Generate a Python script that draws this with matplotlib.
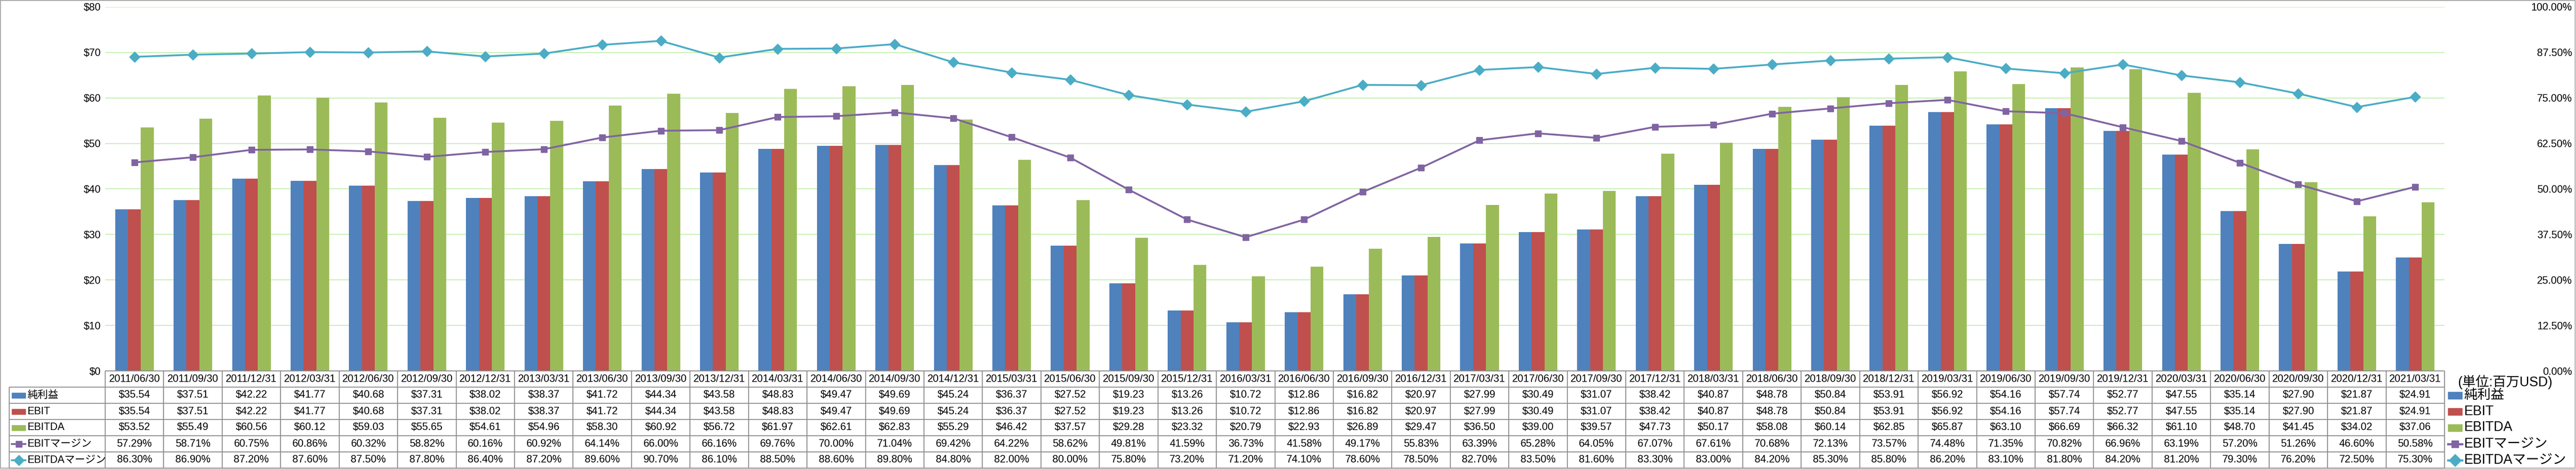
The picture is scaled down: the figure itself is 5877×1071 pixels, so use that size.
import numpy as np
import matplotlib
matplotlib.use('Agg')
import matplotlib.pyplot as plt
from matplotlib import font_manager
from matplotlib.patches import Rectangle
from matplotlib.lines import Line2D

# データ (単位: 百万USD)
dates = ['2011/06/30', '2011/09/30', '2011/12/31', '2012/03/31', '2012/06/30', '2012/09/30',
         '2012/12/31', '2013/03/31', '2013/06/30', '2013/09/30', '2013/12/31', '2014/03/31',
         '2014/06/30', '2014/09/30', '2014/12/31', '2015/03/31', '2015/06/30', '2015/09/30',
         '2015/12/31', '2016/03/31', '2016/06/30', '2016/09/30', '2016/12/31', '2017/03/31',
         '2017/06/30', '2017/09/30', '2017/12/31', '2018/03/31', '2018/06/30', '2018/09/30',
         '2018/12/31', '2019/03/31', '2019/06/30', '2019/09/30', '2019/12/31', '2020/03/31',
         '2020/06/30', '2020/09/30', '2020/12/31', '2021/03/31']
net_income = [35.54, 37.51, 42.22, 41.77, 40.68, 37.31, 38.02, 38.37, 41.72, 44.34,
              43.58, 48.83, 49.47, 49.69, 45.24, 36.37, 27.52, 19.23, 13.26, 10.72,
              12.86, 16.82, 20.97, 27.99, 30.49, 31.07, 38.42, 40.87, 48.78, 50.84,
              53.91, 56.92, 54.16, 57.74, 52.77, 47.55, 35.14, 27.90, 21.87, 24.91]
ebit = [35.54, 37.51, 42.22, 41.77, 40.68, 37.31, 38.02, 38.37, 41.72, 44.34,
        43.58, 48.83, 49.47, 49.69, 45.24, 36.37, 27.52, 19.23, 13.26, 10.72,
        12.86, 16.82, 20.97, 27.99, 30.49, 31.07, 38.42, 40.87, 48.78, 50.84,
        53.91, 56.92, 54.16, 57.74, 52.77, 47.55, 35.14, 27.90, 21.87, 24.91]
ebitda = [53.52, 55.49, 60.56, 60.12, 59.03, 55.65, 54.61, 54.96, 58.30, 60.92,
          56.72, 61.97, 62.61, 62.83, 55.29, 46.42, 37.57, 29.28, 23.32, 20.79,
          22.93, 26.89, 29.47, 36.50, 39.00, 39.57, 47.73, 50.17, 58.08, 60.14,
          62.85, 65.87, 63.10, 66.69, 66.32, 61.10, 48.70, 41.45, 34.02, 37.06]
ebit_margin = [57.29, 58.71, 60.75, 60.86, 60.32, 58.82, 60.16, 60.92, 64.14, 66.00,
               66.16, 69.76, 70.00, 71.04, 69.42, 64.22, 58.62, 49.81, 41.59, 36.73,
               41.58, 49.17, 55.83, 63.39, 65.28, 64.05, 67.07, 67.61, 70.68, 72.13,
               73.57, 74.48, 71.35, 70.82, 66.96, 63.19, 57.20, 51.26, 46.60, 50.58]
ebitda_margin = [86.30, 86.90, 87.20, 87.60, 87.50, 87.80, 86.40, 87.20, 89.60, 90.70,
                 86.10, 88.50, 88.60, 89.80, 84.80, 82.00, 80.00, 75.80, 73.20, 71.20,
                 74.10, 78.60, 78.50, 82.70, 83.50, 81.60, 83.30, 83.00, 84.20, 85.30,
                 85.80, 86.20, 83.10, 81.80, 84.20, 81.20, 79.30, 76.20, 72.50, 75.30]

names = {f.name for f in font_manager.fontManager.ttflist}
base = 'Liberation Sans Narrow' if 'Liberation Sans Narrow' in names else 'Liberation Sans'
plt.rcParams['font.family'] = [base, 'Noto Sans CJK JP', 'DejaVu Sans']
fs = 20 if base.endswith('Narrow') else 17
fs_leg = fs * 1.3

c_net, c_ebit, c_ebitda = '#4F81BD', '#C0504D', '#9BBB59'
c_m1, c_m2 = '#8064A2', '#4BACC6'
grid_green = '#c4eeb0'
line_gray = '#8c8c8c'

W, H = 5877, 1071
fig = plt.figure(figsize=(W / 100, H / 100), dpi=100)

col_left, col_right = 240, 5577
plot_top, plot_bottom = 16, 847
row_h = 37

ax = fig.add_axes([col_left / W, 1 - plot_bottom / H,
                   (col_right - col_left) / W, (plot_bottom - plot_top) / H])
n = len(dates)
x = np.arange(n)
bw = 0.22
ax.bar(x - bw, net_income, bw, color=c_net)
ax.bar(x, ebit, bw, color=c_ebit)
ax.bar(x + bw, ebitda, bw, color=c_ebitda)
ax.set_xlim(-0.5, n - 0.5)
ax.set_ylim(0, 80)
ax.set_yticks(np.arange(0, 81, 10))
ax.yaxis.set_major_formatter(lambda v, p: f'${v:.0f}')
ax.yaxis.tick_right()
ax.tick_params(axis='y', length=0, pad=7, labelsize=fs)
ax.set_xticks([])
ax.grid(axis='y', color=grid_green, lw=1.5)
ax.set_axisbelow(True)
for s in ax.spines.values():
    s.set_visible(False)

ax2 = ax.twinx()
ax2.plot(x, ebit_margin, color=c_m1, lw=3, marker='s', ms=10)
ax2.plot(x, ebitda_margin, color=c_m2, lw=3, marker='D', ms=12)
ax2.set_ylim(0, 100)
ax2.set_yticks(np.arange(0, 100.1, 12.5))
ax2.yaxis.set_major_formatter(lambda v, p: f'{v:.2f}%')
ax2.tick_params(axis='y', length=0, pad=(5868 - col_right) * 0.72, labelsize=fs)
plt.setp(ax2.get_yticklabels(), ha='right')
for s in ax2.spines.values():
    s.set_visible(False)

# データテーブル
ov = fig.add_axes([0, 0, 1, 1])
ov.set_xlim(0, W)
ov.set_ylim(H, 0)
ov.axis('off')

cw = (col_right - col_left) / n
label_left = 21
tops = [plot_bottom + i * row_h for i in range(7)]
ov.hlines(tops[0], col_left, col_right, color=line_gray, lw=1.5)
ov.hlines(tops[1:], label_left, col_right, color=line_gray, lw=1.5)
ov.vlines([col_left + i * cw for i in range(n + 1)], tops[0], tops[-1], color=line_gray, lw=1.5)
ov.vlines(label_left, tops[1], tops[-1], color=line_gray, lw=1.5)
ov.add_patch(Rectangle((1, 1), W - 3, H - 3, fill=False, ec='#a6a6a6', lw=1.5))

for i, d in enumerate(dates):
    ov.text(col_left + (i + 0.5) * cw, tops[0] + row_h / 2, d, ha='center', va='center', fontsize=fs)

rows = [('純利益', 'bar', c_net, None, net_income, '${:.2f}'),
        ('EBIT', 'bar', c_ebit, None, ebit, '${:.2f}'),
        ('EBITDA', 'bar', c_ebitda, None, ebitda, '${:.2f}'),
        ('EBITマージン', 'line', c_m1, 's', ebit_margin, '{:.2f}%'),
        ('EBITDAマージン', 'line', c_m2, 'D', ebitda_margin, '{:.2f}%')]


def draw_key(x0, yc, kind, color, marker, w=31, h=12, scale=1.0):
    if kind == 'bar':
        ov.add_patch(Rectangle((x0, yc - h / 2), w, h, color=color))
    else:
        ov.add_line(Line2D([x0, x0 + w], [yc, yc], color=color, lw=3 * scale))
        ov.add_line(Line2D([x0 + w / 2], [yc], color=color, marker=marker,
                           ms=(10 if marker == 's' else 12) * scale))


for r, (name, kind, color, marker, vals, fmt) in enumerate(rows):
    yc = tops[r + 1] + row_h / 2
    draw_key(27, yc, kind, color, marker)
    ov.text(62, yc, name, ha='left', va='center', fontsize=fs)
    for i, v in enumerate(vals):
        ov.text(col_left + (i + 0.5) * cw, yc, fmt.format(v), ha='center', va='center', fontsize=fs)
    # 右側の凡例
    draw_key(col_right + 8, yc, kind, color, marker, w=32, h=16, scale=1.2)
    ov.text(col_right + 44, yc, name, ha='left', va='center', fontsize=fs_leg)

ov.text(col_right + 30, tops[0] + 26, '(単位:百万USD)', ha='left', va='center', fontsize=fs_leg)

fig.savefig('out.png', dpi=100)
